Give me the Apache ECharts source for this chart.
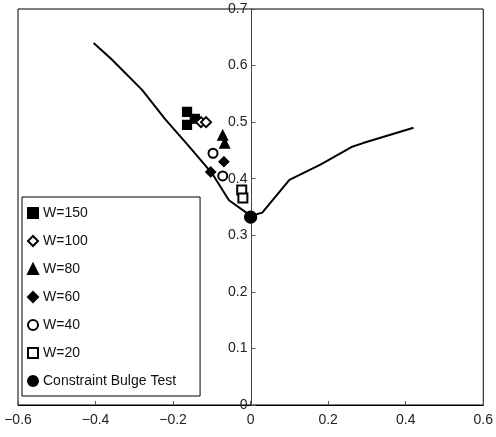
<!DOCTYPE html>
<html>
<head>
<meta charset="utf-8">
<script src="https://cdn.jsdelivr.net/npm/echarts@6/dist/echarts.min.js"></script>
<style>
  html, body { margin: 0; padding: 0; background: #fff; }
  #chart { width: 496px; height: 437px; }
</style>
</head>
<body>
<div id="chart"></div>
<script>
// curve (x, y)
var curveX = [-0.405, -0.36, -0.28, -0.22, -0.16, -0.10, -0.056, -0.013, 0, 0.03, 0.10, 0.18, 0.26, 0.29, 0.42];
var curveY = [0.64, 0.612, 0.557, 0.505, 0.458, 0.41, 0.362, 0.341, 0.334, 0.34, 0.398, 0.425, 0.456, 0.463, 0.49];

// test points, one list per width
var w150 = [[-0.164, 0.518], [-0.164, 0.495], [-0.144, 0.506]];
var w100 = [[-0.128, 0.5], [-0.115, 0.5]];
var w80 = [[-0.072, 0.477], [-0.067, 0.463]];
var w60 = [[-0.069, 0.43], [-0.103, 0.412]];
var w40 = [[-0.097, 0.445], [-0.072, 0.405]];
var w20 = [[-0.023, 0.38], [-0.02, 0.366]];
var bulge = [[0, 0.332]];

var xTicks = { min: -0.6, max: 0.6, step: 0.2 };
var yTicks = { min: 0, max: 0.7, step: 0.1 };

var curve = curveX.map(function (x, i) { return [x, curveY[i]]; });
var font = 'Liberation Sans, Arial, sans-serif';

var W = 496, gridLeft = 18, gridRight = 11;
// y axis sits at x = 0, in the middle of the grid
var yOffset = -(W - gridLeft - gridRight) * (0 - xTicks.min) / (xTicks.max - xTicks.min);

function pts(name, data, symbol, size) {
  return {
    name: name, type: 'scatter', data: data,
    symbol: symbol, symbolSize: size,
    itemStyle: { color: '#000', borderColor: '#000', borderWidth: 1.2, opacity: 1 },
    z: 3
  };
}

var myChart = echarts.init(document.getElementById('chart'));
myChart.setOption({
  animation: false,
  grid: { left: gridLeft, right: gridRight, top: 9, bottom: 32, show: true, borderColor: '#000', borderWidth: 1 },
  xAxis: {
    type: 'value', min: xTicks.min, max: xTicks.max, interval: xTicks.step,
    axisLine: { onZero: false, lineStyle: { color: '#000', width: 1 } },
    axisTick: { inside: true, length: 4, lineStyle: { color: '#555' } },
    splitLine: { show: false },
    axisLabel: {
      color: '#222', fontFamily: font, fontSize: 14, margin: 8,
      formatter: function (v) { return (Math.round(v * 10) / 10).toString().replace('-', '\u2212'); }
    }
  },
  yAxis: {
    type: 'value', min: yTicks.min, max: yTicks.max, interval: yTicks.step,
    offset: yOffset,
    axisLine: { onZero: false, lineStyle: { color: '#444', width: 1 } },
    axisTick: { inside: true, length: 4, lineStyle: { color: '#555' } },
    splitLine: { show: false },
    axisLabel: {
      color: '#222', fontFamily: font, fontSize: 14, margin: 4,
      formatter: function (v) { return (Math.round(v * 10) / 10).toString(); }
    }
  },
  legend: {
    orient: 'vertical', left: 22, top: 197,
    padding: [9, 24, 8, 5], itemGap: 14, itemWidth: 10, itemHeight: 10,
    backgroundColor: '#fff', borderColor: '#000', borderWidth: 1,
    textStyle: { color: '#111', fontFamily: font, fontSize: 14 },
    data: ['W=150', 'W=100', 'W=80', 'W=60', 'W=40', 'W=20', 'Constraint Bulge Test']
  },
  series: [
    {
      name: 'curve', type: 'line', data: curve, symbol: 'none',
      lineStyle: { color: '#000', width: 2 }, z: 2
    },
    pts('W=150', w150, 'rect', 9),
    pts('W=100', w100, 'emptyDiamond', 10),
    pts('W=80', w80, 'triangle', 10),
    pts('W=60', w60, 'diamond', 10),
    pts('W=40', w40, 'emptyCircle', 9),
    pts('W=20', w20, 'emptyRect', 9),
    pts('Constraint Bulge Test', bulge, 'circle', 12)
  ]
});
</script>
</body>
</html>
